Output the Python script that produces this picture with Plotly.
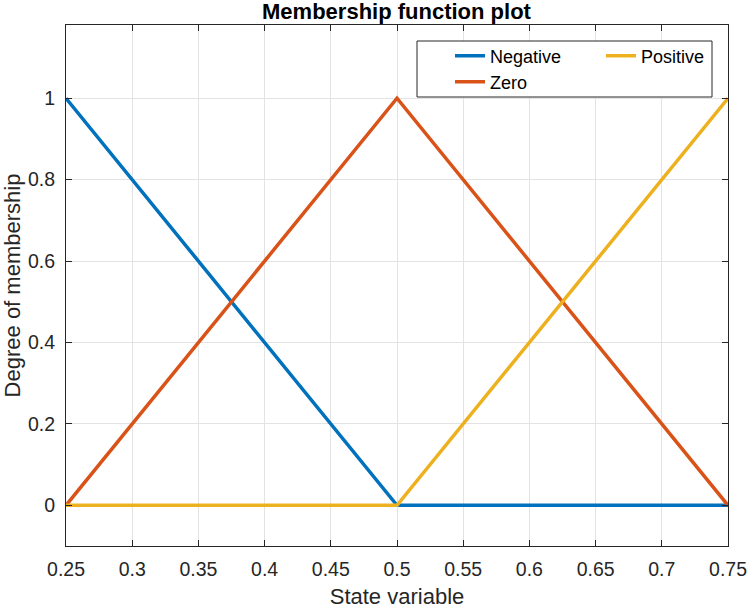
import plotly.graph_objects as go

# state variable break points and membership degrees
x_vals = [0.25, 0.5, 0.75]
negative = [1, 0, 0]
zero = [0, 1, 0]
positive = [0, 0, 1]

x_ticks = [0.25, 0.3, 0.35, 0.4, 0.45, 0.5, 0.55, 0.6, 0.65, 0.7, 0.75]
x_ticktext = ["0.25", "0.3", "0.35", "0.4", "0.45", "0.5", "0.55", "0.6", "0.65", "0.7", "0.75"]
y_ticks = [0, 0.2, 0.4, 0.6, 0.8, 1]
y_ticktext = ["0", "0.2", "0.4", "0.6", "0.8", "1"]

W, H = 747, 609
L, T, R, B = 66, 25, 728, 546  # plot area in pixels
font = "Liberation Sans, Arial, Helvetica, sans-serif"
axcol = "#262626"

fig = go.Figure()
fig.add_trace(go.Scatter(x=x_vals, y=negative, mode="lines", name="Negative",
                         line=dict(color="#0072BD", width=3.5), legend="legend"))
fig.add_trace(go.Scatter(x=x_vals, y=zero, mode="lines", name="Zero",
                         line=dict(color="#D95319", width=3.5), legend="legend2"))
fig.add_trace(go.Scatter(x=x_vals, y=positive, mode="lines", name="Positive",
                         line=dict(color="#EDB120", width=3.5), legend="legend3"))


def px_x(px):
    return (px - L) / (R - L)


def px_y(py):
    return (B - py) / (B - T)


def leg(px, py):
    # legend placed by pixel position
    return dict(xref="paper", yref="paper", x=px_x(px), y=px_y(py),
                xanchor="left", yanchor="middle", bgcolor="rgba(0,0,0,0)",
                borderwidth=0, font=dict(family=font, size=18, color="#000000"))


axis = dict(showline=True, linecolor=axcol, linewidth=1, mirror="ticks",
            ticks="inside", ticklen=6, tickcolor=axcol, showgrid=True,
            gridcolor="#e3e3e3", gridwidth=1, zeroline=False, automargin=False,
            ticklabeloverflow="allow",
            tickfont=dict(family=font, size=19.5, color=axcol))

fig.update_layout(
    width=W, height=H, showlegend=True,
    margin=dict(l=L, r=W - R, t=T, b=H - B),
    paper_bgcolor="white", plot_bgcolor="white",
    title=dict(text="<b>Membership function plot</b>", x=396.5 / W, xanchor="center",
               y=1 - 11.5 / H, yanchor="middle",
               font=dict(family=font, size=22, color="#000000")),
    xaxis=dict(axis, range=[0.25, 0.75], tickvals=x_ticks, ticktext=x_ticktext,
               ticklabelstandoff=6,
               title=dict(text="State variable", standoff=10,
                          font=dict(family=font, size=22, color=axcol))),
    yaxis=dict(axis, range=[-0.1, 1.18], tickvals=y_ticks, ticktext=y_ticktext,
               ticklabelstandoff=6,
               title=dict(text="Degree of membership", standoff=14,
                          font=dict(family=font, size=22, color=axcol))),
    legend=leg(450, 56),
    legend2=leg(450, 82),
    legend3=leg(601, 56),
    shapes=[dict(type="rect", xref="paper", yref="paper",
                 x0=px_x(417), x1=px_x(712), y0=px_y(97), y1=px_y(41),
                 line=dict(color=axcol, width=1), fillcolor="white", layer="above")],
)

# drop the browser's default body margin so the figure sits at the page corner
fig.write_html("out.html", config={"displayModeBar": False},
               post_script="document.body.style.margin = '0';")
